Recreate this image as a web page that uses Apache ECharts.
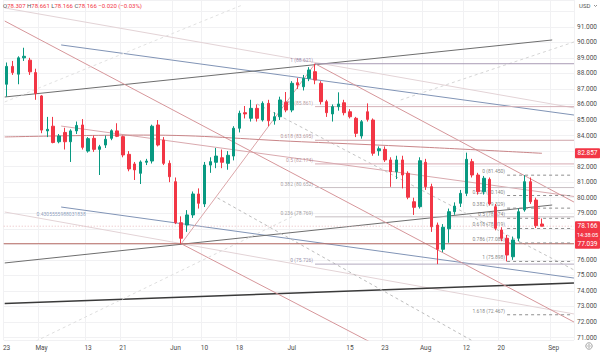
<!DOCTYPE html>
<html><head><meta charset="utf-8">
<script src="https://cdn.jsdelivr.net/npm/echarts@6/dist/echarts.min.js"></script>
<style>html,body{margin:0;padding:0;background:#fff}#c{width:600px;height:355px}</style>
</head><body><div id="c"></div>
<script>
// ---------- data ----------
const dates = ['2024-04-23','2024-04-24','2024-04-25','2024-04-26','2024-04-29','2024-04-30','2024-05-01','2024-05-02','2024-05-03','2024-05-06','2024-05-07','2024-05-08','2024-05-09','2024-05-10','2024-05-13','2024-05-14','2024-05-15','2024-05-16','2024-05-17','2024-05-20','2024-05-21','2024-05-22','2024-05-23','2024-05-24','2024-05-27','2024-05-28','2024-05-29','2024-05-30','2024-05-31','2024-06-03','2024-06-04','2024-06-05','2024-06-06','2024-06-07','2024-06-10','2024-06-11','2024-06-12','2024-06-13','2024-06-14','2024-06-17','2024-06-18','2024-06-19','2024-06-20','2024-06-21','2024-06-24','2024-06-25','2024-06-26','2024-06-27','2024-06-28','2024-07-01','2024-07-02','2024-07-03','2024-07-04','2024-07-05','2024-07-08','2024-07-09','2024-07-10','2024-07-11','2024-07-12','2024-07-15','2024-07-16','2024-07-17','2024-07-18','2024-07-19','2024-07-22','2024-07-23','2024-07-24','2024-07-25','2024-07-26','2024-07-29','2024-07-30','2024-07-31','2024-08-01','2024-08-02','2024-08-05','2024-08-06','2024-08-07','2024-08-08','2024-08-09','2024-08-12','2024-08-13','2024-08-14','2024-08-15','2024-08-16','2024-08-19','2024-08-20','2024-08-21','2024-08-22','2024-08-23','2024-08-26','2024-08-27','2024-08-28','2024-08-29','2024-08-30','2024-09-02','2024-09-03','2024-09-04','2024-09-05'];

const opens  = [87.3,88.45,87.95,89.0,88.85,88.05,86.55,84.3,84.6,83.6,84.2,83.6,84.3,84.68,83.0,83.82,83.11,83.39,83.82,84.3,83.93,82.79,82.17,81.57,82.28,82.36,84.68,83.71,82.21,81.03,78.39,78.24,78.89,80.24,79.6,82.1,82.28,82.57,82.21,82.68,84.47,85.47,85.11,85.75,85.0,86.07,84.95,85.21,86.14,85.64,87.4,87.14,87.68,88.11,87.36,86.18,85.39,85.86,86.11,85.53,85.11,83.97,85.53,85.0,83.02,83.11,82.43,81.67,82.43,81.57,79.74,79.42,82.28,80.71,78.24,76.68,78.0,79.1,79.64,80.28,82.32,81.46,80.39,81.18,79.42,77.92,77.39,76.2,77.39,79.21,81.03,79.85,78.307];
const highs  = [88.7,88.8,89.1,89.65,89.0,88.3,86.6,85.2,85.2,84.1,84.5,84.4,84.9,85.06,83.9,84.0,83.4,84.0,84.4,84.79,84.0,83.0,82.3,82.4,82.5,84.7,85.0,83.9,82.4,81.3,78.8,79.2,80.4,80.6,82.3,82.6,83.2,83.1,83.0,84.6,85.6,85.9,86.3,86.0,86.2,86.3,85.5,86.5,86.8,87.5,87.7,87.9,88.4,88.621,87.5,86.3,86.0,86.78,86.3,85.7,85.2,85.0,86.07,85.1,83.3,83.3,82.6,82.7,82.7,81.7,80.0,82.6,82.5,80.9,78.4,78.3,79.3,79.7,80.5,82.9,82.5,81.6,81.4,81.3,79.6,78.1,77.6,77.5,79.3,81.45,81.3,80.0,78.661];
const lows   = [86.5,87.9,87.3,88.8,87.9,86.3,84.15,83.9,83.5,83.5,83.1,82.3,84.1,83.1,82.9,82.95,81.46,83.2,83.7,83.9,82.6,81.7,81.14,80.88,82.1,82.2,83.3,82.1,81.0,78.3,77.039,77.8,78.7,79.3,79.4,81.6,81.9,81.9,81.8,82.4,84.2,85.1,84.9,84.9,84.9,84.6,84.7,85.0,85.5,85.5,87.0,86.9,87.5,87.3,86.0,85.2,84.9,85.6,85.3,85.1,83.9,83.8,84.9,82.7,82.7,82.3,80.7,81.2,80.6,79.9,78.89,79.3,80.5,77.8,75.726,76.5,77.1,78.9,79.4,80.1,81.3,80.2,80.2,79.5,77.9,77.2,75.898,76.0,77.2,79.1,79.6,78.05,78.166];
const closes = [88.45,88.05,89.0,89.1,88.1,86.7,84.35,84.4,83.55,83.97,83.6,84.3,84.65,83.24,83.8,83.11,83.28,83.76,84.31,83.95,82.75,81.85,81.79,82.3,82.36,84.6,83.39,82.21,81.35,78.39,77.39,78.89,80.24,79.64,82.1,82.32,82.68,82.28,82.73,84.47,85.43,85.39,85.75,85.11,86.07,84.95,85.21,86.29,85.64,87.36,87.25,87.68,88.22,87.57,86.18,85.47,85.86,86.03,85.47,85.21,84.14,84.89,85.04,82.86,83.15,82.43,81.67,82.43,81.46,80.03,79.38,82.38,80.71,78.13,76.68,78.1,79.1,79.46,80.28,82.47,81.46,80.39,81.25,79.6,78.03,77.39,76.31,77.28,79.1,81.03,79.74,78.2,78.166];

const tickDates  = ['2024-04-23','2024-05-01','2024-05-13','2024-05-21','2024-06-03','2024-06-10','2024-06-18','2024-07-01','2024-07-15','2024-07-23','2024-08-01','2024-08-12','2024-08-20','2024-09-02'];
const tickLabels = ['23','May','13','21','Jun','10','18','Jul','15','23','Aug','12','20','Sep'];

const lastChange = -0.020;
const lastChangePct = -0.03;

// drawings: [bar index, price] pairs
const paleTop      = [[-0.33, 92.21], [97.49, 85.78]];
const paleBottom   = [[-0.33, 79.08], [97.49, 72.52]];
const blueTop      = [[9.37, 89.83], [97.49, 85.32]];
const blueBottom   = [[9.37, 79.40], [97.49, 74.83]];
const blueMid      = [[9.37, 84.61], [97.49, 80.08]];
const channelTop   = [[-0.33, 86.48], [93.75, 90.15]];
const channelBot   = [[-0.33, 75.80], [93.75, 79.53]];
const blackTrend   = [[-0.33, 73.19], [97.49, 74.51]];
const redLine1     = [[-0.33, 91.37], [97.49, 72.0]];
const redLine2     = [[53, 88.621], [97.49, 79.72]];
const redLine3     = [[30, 77.039], [63.47, 70.52]];
const riseLine     = [[30, 77.039], [53, 88.621]];
const dash1        = [[36.25, 79.98], [81.33, 70.52]];
const dash2        = [[43.05, 86.03], [97.49, 75.35]];
const dash3        = [[2.22, 70.26], [50.71, 79.08]];
const dash4        = [[-0.33, 86.16], [40.5, 92.40]];
const dash5        = [[67.72, 86.29], [97.49, 90.02]];
const maLine       = [[-0.33, 83.91], [23.5, 84.03], [50.7, 83.60], [71.1, 83.26], [92, 82.857]];
const hLevel       = 77.039;
const channelLabel = [9.37, 79.40];
const channelText  = '0.4305555988031838';

const fibARatios = ['1','0.786','0.618','0.5','0.382','0.236','0'];
const fibAPrices = [88.621,85.861,83.695,82.174,80.652,78.769,75.726];
const fibASpan   = [53, 97.5];
const fibBRatios = ['0','0.236','0.382','0.5','0.618','0.786','1','1.618'];
const fibBPrices = [81.450,80.140,79.329,78.674,78.019,77.086,75.898,72.467];
const fibBSpan   = [86, 97];

const priceTags = [82.857, 77.039, 78.166];
const countdown = '14:38:05';

// ---------- chart ----------
const FONT = 'Roboto, "Noto Sans", sans-serif';
const chart = echarts.init(document.getElementById('c'), null, {renderer:'svg', width:600, height:355});
const tickSet = new Map(tickDates.map((d,i)=>[d, tickLabels[i]]));
const isTick = (idx, val) => tickSet.has(dates[idx]);

const segs = [];
function seg(data, color, width, type, z){
  segs.push({type:'line', xAxisIndex:1, yAxisIndex:0, data, symbol:'none', silent:true, animation:false,
    lineStyle:{color, width, type: type||'solid'}, z: z||2, clip:true});
}
seg(paleTop, '#e3d3d6', 1);
seg(paleBottom, '#e3d3d6', 1);
seg(blueTop, '#8194b6', 1);
seg(blueBottom, '#8194b6', 1);
seg(blueMid, '#d9a9ae', 1);
seg(channelTop, '#6e6e6e', 1);
seg(channelBot, '#6e6e6e', 1);
seg(blackTrend, '#3a3a3a', 1.6);
seg(redLine1, '#d6969a', 1);
seg(redLine2, '#d6969a', 1);
seg(redLine3, '#d6969a', 1);
seg(riseLine, '#dba5a8', 1);
seg(dash1, '#bdbdbd', 1, [3,3]);
seg(dash2, '#c4c4c4', 1, [3,3]);
seg(dash3, '#dedede', 1, [3,3]);
seg(dash4, '#e2e2e2', 1, [3,3]);
seg(dash5, '#d6d6d6', 1, [3,3]);
seg([[-0.5, hLevel],[97.5, hLevel]], '#b86f69', 1);
seg([[-0.5, closes[closes.length-1]],[97.5, closes[closes.length-1]]], '#e9b9bc', 1, [1,2]);

segs.push({type:'line', xAxisIndex:1, yAxisIndex:0, data: maLine, symbol:'none', smooth:0.4, silent:true, animation:false,
  lineStyle:{color:'#c98588', width:1}, z:2});

const fibALine = ['#a99bb5','#d5b1b8','#cfa5aa','#d7abb3','#c9bfc4','#c6bec2','#b2a9be'];
const fibAText = ['#85709a','#a48188','#9f7a7f','#a9808a','#8f878c','#8c878a','#807595'];
fibAPrices.forEach((p,i)=> seg([[fibASpan[0], p],[fibASpan[1], p]], fibALine[i], 1));
fibBPrices.forEach((p,i)=> seg([[fibBSpan[0], p],[fibBSpan[1], p]], '#8f8f8f', 1, [3,3]));

const labelPts = [];
fibAPrices.forEach((p,i)=> labelPts.push({value:[fibASpan[0], p], txt: fibARatios[i]+' ('+p.toFixed(3)+')', color: fibAText[i]}));
fibBPrices.forEach((p,i)=> labelPts.push({value:[fibBSpan[0], p], txt: fibBRatios[i]+' ('+p.toFixed(3)+')', color: '#666'}));

const series = segs.concat([
  {type:'scatter', xAxisIndex:1, yAxisIndex:0, symbolSize:0, silent:true, animation:false, z:3,
   data: labelPts.map(d=>({value:d.value, label:{show:true, position:'left', distance:2, offset:[0,-4], color:d.color,
     fontSize:5, fontFamily:FONT, formatter: d.txt}}))},
  {type:'scatter', xAxisIndex:1, yAxisIndex:0, symbolSize:0, silent:true, animation:false, z:3,
   data:[{value:channelLabel, label:{show:true, position:'bottom', distance:4, color:'#7388ad', fontSize:5, fontFamily:FONT, formatter: channelText}}]},
  {type:'candlestick', xAxisIndex:0, yAxisIndex:0, animation:false, z:5, barWidth:3,
   data: opens.map((o,i)=>[o, closes[i], lows[i], highs[i]]),
   itemStyle:{color:'#089981', color0:'#f23645', borderColor:'#089981', borderColor0:'#f23645', borderWidth:1}}
]);

// y labels hidden where a price tag sits on top of them
const coveredByTag = (v) => priceTags.some(t => Math.abs(t - v) < 0.45);

const option = {
  backgroundColor:'#ffffff',
  animation:false,
  grid:{left:-1, right:25, top:0, bottom:15, containLabel:false},
  xAxis:[
    {type:'category', data:dates, boundaryGap:true, gridIndex:0,
     axisLine:{show:false}, axisTick:{show:false},
     axisLabel:{interval:isTick, formatter:(v)=>tickSet.get(v)||'', color:'#4d4d4d', fontSize:6.5, fontFamily:FONT, margin:4, hideOverlap:false},
     splitLine:{show:true, interval:isTick, lineStyle:{color:'#f1f1f3', width:1}}},
    {type:'value', min:-0.5, max:97.5, show:false, gridIndex:0}
  ],
  yAxis:[{type:'value', position:'right', min:70.843, max:92.722, splitNumber:22, scale:true,
    axisLine:{show:false}, axisTick:{show:false},
    axisLabel:{color:'#4d4d4d', fontSize:6.5, fontFamily:FONT, margin:3,
      formatter:(v)=>{const r=Math.round(v); return (Math.abs(v-r)<1e-6 && r<=91 && !coveredByTag(r)) ? r.toFixed(3) : '';}},
    splitLine:{show:true, lineStyle:{color:'#f1f1f3', width:1}}}],
  series
};
chart.setOption(option);

// ---------- overlay texts / price tags ----------
const n = closes.length-1;
const g = [];
g.push({type:'text', left:3, top:2, z:100, style:{
  text:'{k|O}{v|'+opens[n].toFixed(3)+'} {k|H}{v|'+highs[n].toFixed(3)+'} {k|L}{v|'+lows[n].toFixed(3)+'} {k|C}{v|'+closes[n].toFixed(3)+'} {v|\u2212'+Math.abs(lastChange).toFixed(3)+' (\u2212'+Math.abs(lastChangePct).toFixed(2)+'%)}',
  rich:{k:{fill:'#555', fontSize:6, fontFamily:FONT}, v:{fill:'#f23645', fontSize:6, fontFamily:FONT}}, fontSize:6, fontFamily:FONT}});
g.push({type:'text', left:579, top:2, z:100, style:{text:'USD', fill:'#555', fontSize:6, fontFamily:FONT}});
g.push({type:'polyline', z:100, shape:{points:[[594,5],[595.5,6.5],[597,5]]}, style:{stroke:'#777', lineWidth:0.8, fill:null}});
g.push({type:'circle', z:100, shape:{cx:589, cy:346, r:3.2}, style:{stroke:'#888', lineWidth:0.8, fill:'#fff'}});
g.push({type:'circle', z:100, shape:{cx:589, cy:346, r:1.2}, style:{stroke:'#888', lineWidth:0.7, fill:'#fff'}});

priceTags.forEach((p)=>{
  const y = chart.convertToPixel({yAxisIndex:0}, p);
  const isLast = Math.abs(p - closes[n]) < 1e-9;
  const h = isLast ? 18 : 10;
  g.push({type:'rect', z:110, shape:{x:575, y:y-5, width:25, height:h, r:1}, style:{fill:'#f23645'}});
  g.push({type:'text', z:111, x:587.5, y:y, style:{text:p.toFixed(3), fill:'#fff', fontSize:6.5, fontFamily:FONT, align:'center', verticalAlign:'middle'}});
  if (isLast) g.push({type:'text', z:111, x:587.5, y:y+8.5, style:{text:countdown, fill:'#fff', fontSize:5.5, fontFamily:FONT, align:'center', verticalAlign:'middle'}});
});
chart.setOption({graphic:g});
</script>
</body></html>
